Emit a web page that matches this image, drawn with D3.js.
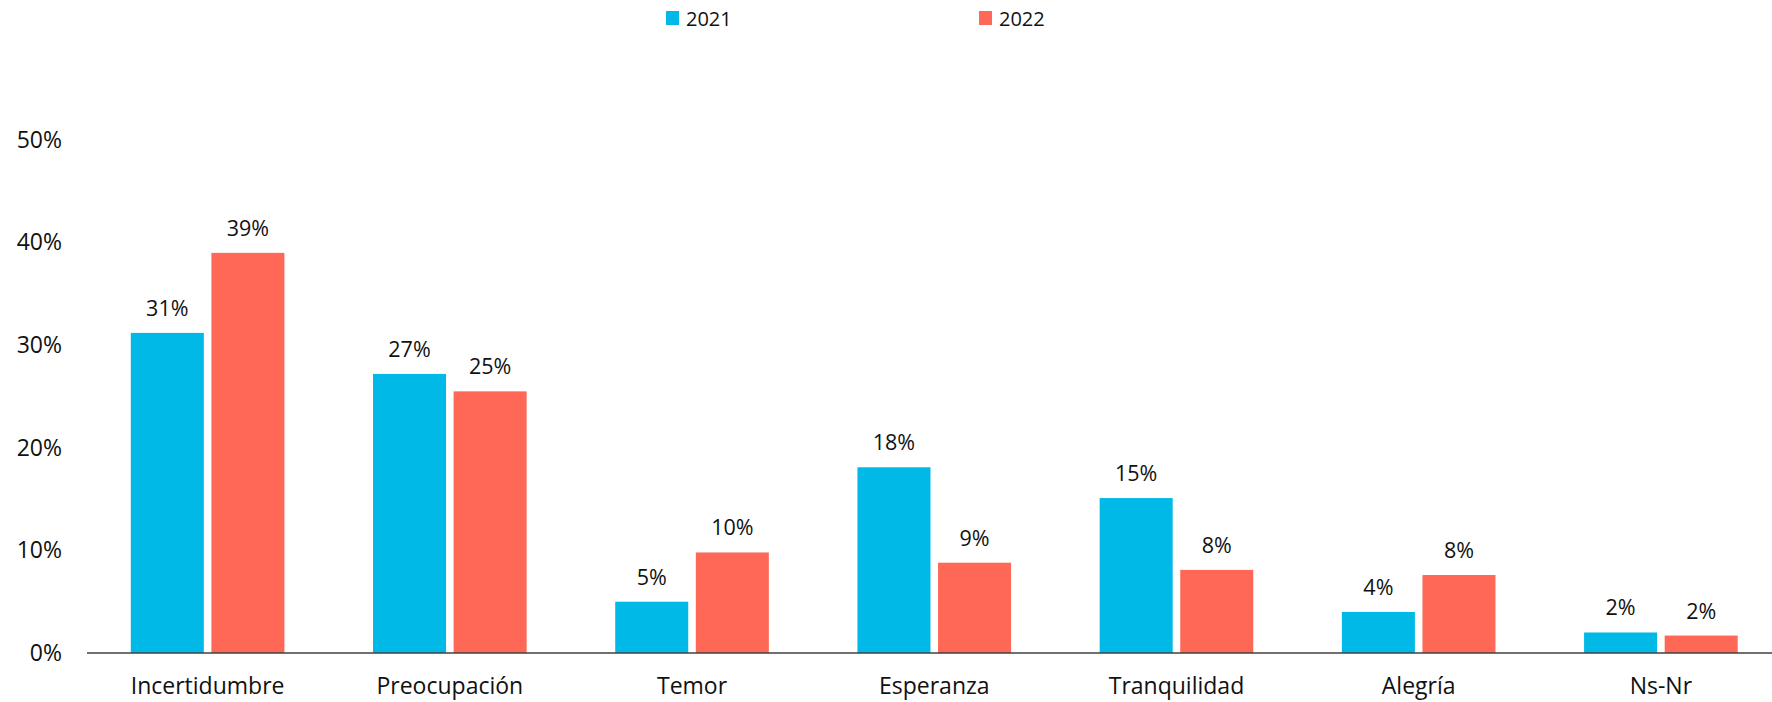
<!DOCTYPE html>
<html>
<head>
<meta charset="utf-8">
<script src="https://cdn.jsdelivr.net/npm/d3@7"></script>
<style>
  html, body { margin: 0; padding: 0; background: #ffffff; }
  svg { display: block; font-family: "Open Sans", "Noto Sans", sans-serif; }
</style>
</head>
<body>
<svg id="chart" width="1772" height="702"></svg>
<script>
const categories = ["Incertidumbre", "Preocupación", "Temor", "Esperanza", "Tranquilidad", "Alegría", "Ns-Nr"];
const seriesNames = ["2021", "2022"];
const values2021 = [31.2, 27.2, 5.0, 18.1, 15.1, 4.0, 2.0];
const values2022 = [39.0, 25.5, 9.8, 8.8, 8.1, 7.6, 1.7];
const labels2021 = ["31%", "27%", "5%", "18%", "15%", "4%", "2%"];
const labels2022 = ["39%", "25%", "10%", "9%", "8%", "8%", "2%"];
const yTicks = [0, 10, 20, 30, 40, 50];
const colors = ["#00B9E6", "#FF6856"];

const W = 1772, H = 702;
const svg = d3.select("#chart");

const baseY = 653;
const y = d3.scaleLinear().domain([0, 50]).range([baseY, baseY - 513]);

const x0 = d3.scaleBand().domain(categories).range([86.5, 1782]).padding(0);
const x1 = d3.scaleBand().domain(seriesNames).range([44.3, x0.bandwidth() - 44.3])
  .paddingInner(0.094).paddingOuter(0);

const rows = categories.map((c, i) => ({
  cat: c,
  vals: [
    {s: seriesNames[0], v: values2021[i], l: labels2021[i], c: colors[0]},
    {s: seriesNames[1], v: values2022[i], l: labels2022[i], c: colors[1]}
  ]
}));

// bars
const g = svg.append("g");
const groups = g.selectAll("g.grp").data(rows).join("g")
  .attr("class", "grp")
  .attr("transform", d => `translate(${x0(d.cat)},0)`);

groups.selectAll("rect").data(d => d.vals).join("rect")
  .attr("x", d => x1(d.s))
  .attr("width", x1.bandwidth())
  .attr("y", d => y(d.v))
  .attr("height", d => y(0) - y(d.v))
  .attr("fill", d => d.c);

groups.selectAll("text.lbl").data(d => d.vals).join("text")
  .attr("class", "lbl")
  .attr("x", d => x1(d.s) + x1.bandwidth() / 2)
  .attr("y", d => y(d.v) - 17)
  .attr("text-anchor", "middle")
  .attr("font-size", 21.5)
  .attr("fill", "#111")
  .text(d => d.l);

// baseline axis
svg.append("line")
  .attr("x1", 87).attr("x2", W)
  .attr("y1", y(0)).attr("y2", y(0))
  .attr("stroke", "#404040").attr("stroke-width", 1.5);

// y axis labels
const yAxis = d3.axisLeft(y).tickValues(yTicks).tickFormat(d => d + "%").tickSize(0).tickPadding(0);
const ya = svg.append("g").attr("transform", "translate(62,0)").call(yAxis);
ya.select(".domain").remove();
ya.selectAll("text").attr("font-size", 23).attr("fill", "#111")
  .attr("font-family", "'Open Sans', 'Noto Sans', sans-serif");

// x axis labels
const xAxis = d3.axisBottom(x0).tickSize(0).tickPadding(0);
const xa = svg.append("g").attr("transform", `translate(0,${baseY})`).call(xAxis);
xa.select(".domain").remove();
xa.selectAll("text").attr("font-size", 23).attr("fill", "#111")
  .attr("dy", null).attr("y", 41)
  .attr("font-family", "'Open Sans', 'Noto Sans', sans-serif");

// legend
const legX = [666, 979];
const leg = svg.append("g");
seriesNames.forEach((s, i) => {
  leg.append("rect").attr("x", legX[i]).attr("y", 11).attr("width", 13).attr("height", 14).attr("fill", colors[i]);
  leg.append("text").attr("x", legX[i] + 20).attr("y", 26).attr("font-size", 20).attr("fill", "#111").text(s);
});
</script>
</body>
</html>
